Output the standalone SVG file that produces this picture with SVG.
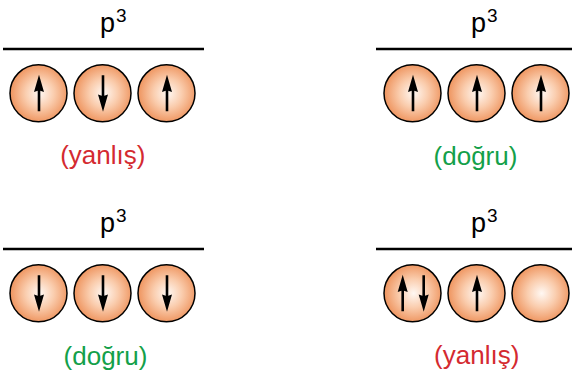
<svg xmlns="http://www.w3.org/2000/svg" xmlns:xlink="http://www.w3.org/1999/xlink" width="572" height="374" viewBox="0 0 572 374">
<style>
.lvl{stroke:#000;stroke-width:2.6;}
.orb{fill:url(#og);stroke:#000;stroke-width:1.5;}
.t{font-family:"Liberation Sans",Arial,Helvetica,sans-serif;}
.p{font-size:27px;fill:#000;}
.sup{font-size:19px;}
.bad{font-size:26px;fill:#d42a30;text-anchor:middle;}
.good{font-size:26px;fill:#13a04a;text-anchor:middle;}
</style>
<defs>
<radialGradient id="og" cx="0.52" cy="0.5" r="0.5">
<stop offset="0" stop-color="#fff8f3"/>
<stop offset="0.5" stop-color="#facdae"/>
<stop offset="1" stop-color="#ef9864"/>
</radialGradient>
<g id="up">
<path d="M0,-18.5 L5,-1.2 L1.3,-2.5 L1.3,18 L-1.3,18 L-1.3,-2.5 L-5,-1.2 Z" fill="#000"/>
</g>
<g id="dn">
<path d="M0,18.5 L5,1.2 L1.3,2.5 L1.3,-18 L-1.3,-18 L-1.3,2.5 L-5,1.2 Z" fill="#000"/>
</g>
</defs>

<g id="panel-top-left">
<text class="t p" x="100" y="32">p<tspan class="sup" dx="1" dy="-10.5">3</tspan></text>
<line class="lvl" x1="3" y1="49" x2="204" y2="49"/>
<g id="tl-o1"><circle class="orb" cx="38.5" cy="93.3" r="28.5"/><use xlink:href="#up" x="39" y="93.3"/></g>
<g id="tl-o2"><circle class="orb" cx="102.5" cy="93.3" r="28.5"/><use xlink:href="#dn" x="103" y="93.3"/></g>
<g id="tl-o3"><circle class="orb" cx="166.5" cy="93.3" r="28.5"/><use xlink:href="#up" x="167" y="93.3"/></g>
<text class="t bad" x="102.8" y="164">(yanlış)</text>
</g>

<g id="panel-top-right">
<text class="t p" x="471" y="32">p<tspan class="sup" dx="1" dy="-10.5">3</tspan></text>
<line class="lvl" x1="376" y1="49" x2="572" y2="49"/>
<g id="tr-o1"><circle class="orb" cx="412.5" cy="93.3" r="28.5"/><use xlink:href="#up" x="413" y="93.3"/></g>
<g id="tr-o2"><circle class="orb" cx="476.5" cy="93.3" r="28.5"/><use xlink:href="#up" x="477" y="93.3"/></g>
<g id="tr-o3"><circle class="orb" cx="540.5" cy="93.3" r="28.5"/><use xlink:href="#up" x="541" y="93.3"/></g>
<text class="t good" x="475.5" y="165">(doğru)</text>
</g>

<g id="panel-bottom-left">
<text class="t p" x="100" y="232">p<tspan class="sup" dx="1" dy="-10.5">3</tspan></text>
<line class="lvl" x1="3" y1="249" x2="204" y2="249"/>
<g id="bl-o1"><circle class="orb" cx="38.5" cy="293.3" r="28.5"/><use xlink:href="#dn" x="39" y="293.3"/></g>
<g id="bl-o2"><circle class="orb" cx="102.5" cy="293.3" r="28.5"/><use xlink:href="#dn" x="103" y="293.3"/></g>
<g id="bl-o3"><circle class="orb" cx="166.5" cy="293.3" r="28.5"/><use xlink:href="#dn" x="167" y="293.3"/></g>
<text class="t good" x="105.5" y="365">(doğru)</text>
</g>

<g id="panel-bottom-right">
<text class="t p" x="471" y="232">p<tspan class="sup" dx="1" dy="-10.5">3</tspan></text>
<line class="lvl" x1="376" y1="249" x2="572" y2="249"/>
<g id="br-o1"><circle class="orb" cx="412.5" cy="293.3" r="28.5"/><use xlink:href="#up" x="402.7" y="293.3"/><use xlink:href="#dn" x="423.7" y="293.3"/></g>
<g id="br-o2"><circle class="orb" cx="476.5" cy="293.3" r="28.5"/><use xlink:href="#up" x="477" y="293.3"/></g>
<g id="br-o3"><circle class="orb" cx="540.5" cy="293.3" r="28.5"/></g>
<text class="t bad" x="476.7" y="364">(yanlış)</text>
</g>
</svg>
